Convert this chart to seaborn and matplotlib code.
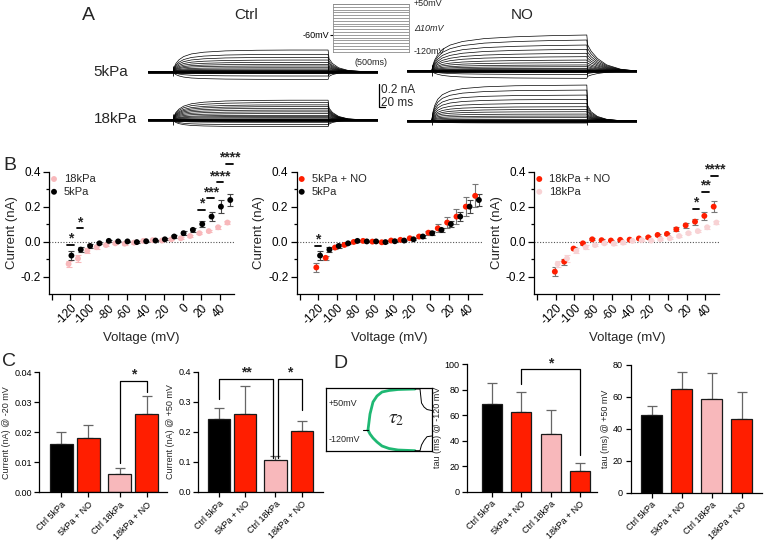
import matplotlib; matplotlib.use('Agg')
import matplotlib.pyplot as plt
import seaborn as sns

W, H = 764, 541

sns.set_style('ticks')
plt.rcParams['font.family'] = ['Liberation Sans', 'DejaVu Sans']
plt.rcParams['axes.edgecolor'] = 'black'
plt.rcParams['xtick.color'] = 'black'
plt.rcParams['ytick.color'] = 'black'

# ---- data ----
voltages = [-120, -110, -100, -90, -80, -70, -60, -50, -40, -30, -20, -10, 0, 10, 20, 30, 40, 50]

# example traces (A): steady-state amplitude of each sweep, nA
amp_ctrl_5 = [-0.066, -0.037, -0.014, 0, 0, 0.003, 0.006, 0.010, 0.014, 0.023, 0.034, 0.049, 0.063, 0.080, 0.100, 0.123, 0.149, 0.186]
amp_no_5 = [-0.063, -0.030, -0.010, 0, 0.004, 0.009, 0.016, 0.023, 0.037, 0.052, 0.072, 0.094, 0.123, 0.152, 0.186, 0.223, 0.266, 0.309]
amp_ctrl_18 = [-0.057, -0.040, -0.020, -0.008, 0, 0.005, 0.010, 0.020, 0.030, 0.040, 0.055, 0.070, 0.085, 0.100, 0.115, 0.130, 0.150, 0.170]
amp_no_18 = [-0.020, -0.012, -0.005, 0, 0.003, 0.006, 0.011, 0.026, 0.040, 0.057, 0.077, 0.097, 0.120, 0.149, 0.183, 0.220, 0.263, 0.306]
# time course of a sweep (fraction of steady state)
trace_t = [0, 81, 84, 90, 100, 115, 140, 180, 250, 350, 460, 581, 584, 595, 615, 645, 690, 742]
frac_ctrl = [0, 0, 0.2, 0.38, 0.55, 0.7, 0.82, 0.9, 0.96, 0.99, 1.0, 1.0, 0.6, 0.38, 0.18, 0.06, 0.01, 0]
frac_no_5 = [0, 0, 0.15, 0.30, 0.45, 0.60, 0.72, 0.82, 0.90, 0.95, 0.98, 1.0, 0.72, 0.55, 0.35, 0.17, 0.05, 0]
frac_no_18 = [0, 0, 0.22, 0.42, 0.60, 0.73, 0.83, 0.90, 0.95, 0.98, 0.99, 1.0, 0.42, 0.25, 0.12, 0.04, 0.0, 0]
PULSE_ON, PULSE_OFF = 81, 581

# IV curves (B), mean and SEM, nA
iv_5 = [-0.080, -0.046, -0.025, -0.010, 0.004, 0.001, 0.001, -0.003, 0.002, 0.006, 0.013, 0.029, 0.048, 0.067, 0.100, 0.143, 0.200, 0.238]
iv_5_err = [0.027, 0.015, 0.010, 0.006, 0.005, 0.004, 0.004, 0.004, 0.004, 0.005, 0.006, 0.008, 0.010, 0.011, 0.019, 0.026, 0.036, 0.035]
iv_18 = [-0.128, -0.097, -0.053, -0.032, -0.020, -0.010, -0.012, -0.006, 0.004, 0.008, 0.006, 0.013, 0.019, 0.032, 0.048, 0.060, 0.082, 0.109]
iv_18_err = [0.018, 0.020, 0.014, 0.010, 0.008, 0.006, 0.005, 0.005, 0.004, 0.004, 0.004, 0.005, 0.005, 0.006, 0.006, 0.007, 0.009, 0.011]
iv_5_no = [-0.148, -0.093, -0.034, -0.019, -0.002, 0.004, 0.000, -0.004, 0.006, 0.010, 0.019, 0.029, 0.051, 0.076, 0.109, 0.143, 0.200, 0.262]
iv_5_no_err = [0.028, 0.012, 0.010, 0.008, 0.005, 0.004, 0.004, 0.004, 0.004, 0.005, 0.006, 0.009, 0.012, 0.022, 0.030, 0.042, 0.055, 0.066]
iv_18_no = [-0.172, -0.115, -0.040, -0.010, 0.013, 0.008, 0.006, 0.010, 0.011, 0.018, 0.024, 0.038, 0.044, 0.070, 0.093, 0.114, 0.147, 0.200]
iv_18_no_err = [0.025, 0.018, 0.007, 0.010, 0.006, 0.004, 0.004, 0.005, 0.005, 0.005, 0.006, 0.007, 0.008, 0.012, 0.014, 0.017, 0.022, 0.032]

# significance marks on the IV curves: voltage, stars, level of the dash
sig_b1_v, sig_b1_txt, sig_b1_y = [-120, -110, 20, 30, 40, 50], ['*', '*', '*', '***', '****', '****'], [-0.019, 0.076, 0.181, 0.248, 0.339, 0.444]
sig_b2_v, sig_b2_txt, sig_b2_y = [-120], ['*'], [-0.025]
sig_b3_v, sig_b3_txt, sig_b3_y = [30, 40, 50], ['*', '**', '****'], [0.187, 0.286, 0.377]

# bar charts (C, D)
bar_labels = ['Ctrl 5kPa', '5kPa + NO', 'Ctrl 18kPa', '18kPa + NO']
cur_m20 = [0.016, 0.018, 0.006, 0.026]
cur_m20_err = [0.004, 0.0043, 0.002, 0.006]
cur_p50 = [0.241, 0.260, 0.107, 0.202]
cur_p50_err = [0.037, 0.094, 0.012, 0.033]
tau_m120 = [68.4, 62.4, 45.2, 16.4]
tau_m120_err = [16.5, 16.0, 18.5, 6.3]
tau_p50 = [48.7, 64.8, 58.5, 46.4]
tau_p50_err = [5.6, 11.0, 16.3, 16.5]

# tau2 inset (D): schematic sweep at +50 / -120 mV with fit
fit_t = [42, 44, 47, 51, 56, 63, 72, 89]
fit_up = [0, 16, 28, 34, 38, 39.5, 40.5, 41]
fit_down = [0, -4, -8, -12, -16, -18.5, -20, -20.7]
tail_t = [89, 94, 95.5, 98, 101, 105.7]
tail_up = [41, 41, 27, 23, 20.5, 19.5]
tail_down = [-20.7, -20.7, -15, -10.5, -6.7, -6]

BLACK = '#000000'
RED = '#ff1e00'
PINK = '#f8b8bb'
PALE = '#f8d2d4'
GREEN = '#1fb873'

fig = plt.figure(figsize=(W / 100, H / 100), dpi=100)


def px_axes(left, top, right, bottom):
    return fig.add_axes([left / W, 1 - bottom / H, (right - left) / W, (bottom - top) / H])


def label(x, y, s, size, **kw):
    fig.text(x / W, 1 - y / H, s, fontsize=size, **kw)


# ---- A: example current traces ----
NA_PX = 116.5
MS_PX = 0.31


def trace_axes(x0, base, amps, frac):
    ymin, ymax = -0.12, 0.36
    ax = px_axes(x0, base - ymax * NA_PX, x0 + 742 * MS_PX, base - ymin * NA_PX)
    for a in amps:
        ax.plot(trace_t, [a * f for f in frac], color='black', lw=0.5)
    ax.plot([trace_t[0], trace_t[-1]], [0, 0], color='black', lw=2.0)
    ax.vlines([PULSE_ON, PULSE_OFF], -0.04, 0.05, color='black', lw=0.6)
    ax.set_xlim(0, 742)
    ax.set_ylim(ymin, ymax)
    ax.axis('off')
    return ax


trace_axes(148, 71.7, amp_ctrl_5, frac_ctrl)
trace_axes(406.7, 71.0, amp_no_5, frac_no_5)
ax18 = trace_axes(148, 120, amp_ctrl_18, frac_ctrl)
trace_axes(406.7, 120.7, amp_no_18, frac_no_18)

# scale bar 0.2 nA / 20 ms
ax18.plot([746, 746, 766], [0.309, 0.109, 0.109], color='black', lw=0.9, clip_on=False)
ax18.text(752, 0.255, '0.2 nA', fontsize=8.5, va='center', ha='left')
ax18.text(752, 0.150, '20 ms', fontsize=8.5, va='center', ha='left')

# voltage protocol
axp = px_axes(333.3, 4, 409.3, 51.7)
for v in voltages:
    axp.axhline(v, color='#8c8c8c', lw=0.6)
axp.set_ylim(-120, 50)
axp.set_xlim(0, 1)
for s in axp.spines.values():
    s.set_visible(True)
    s.set_color('#8c8c8c')
    s.set_linewidth(0.6)
axp.set_xticks([])
axp.set_yticks([-60])
axp.set_yticklabels(['-60mV'], fontsize=6.5)
axp.tick_params(axis='y', length=2, pad=1)
tr = axp.get_yaxis_transform()
axp.text(1.06, 50, '+50mV', transform=tr, fontsize=6.5, va='center')
axp.text(1.06, -37, 'Δ10mV', transform=tr, fontsize=6.5, va='center', style='italic')
axp.text(1.06, -120, '-120mV', transform=tr, fontsize=6.5, va='center')
axp.text(0.5, -0.22, '(500ms)', transform=axp.transAxes, fontsize=6.5, ha='center', va='center')

label(88, 16, 'A', 14, ha='center', va='center')
label(246, 15, 'Ctrl', 11, ha='center', va='center')
label(522, 15, 'NO', 11, ha='center', va='center')
label(93.6, 72, '5kPa', 11, ha='left', va='center')
label(93.6, 119, '18kPa', 11, ha='left', va='center')

# ---- B: IV curves ----


def iv_axes(left, series, sig_v, sig_txt, sig_y):
    ax = px_axes(left, 171.7, left + 185, 294)
    ax.axhline(0, color='#555555', lw=0.8, ls=(0, (1, 1.5)), zorder=0)
    for name, vals, errs, color, ecolor, dx in series:
        xs = [v + dx for v in voltages]
        ax.errorbar(xs, vals, yerr=errs, fmt='none', ecolor=ecolor, elinewidth=0.8,
                    capsize=2.2, capthick=0.8, zorder=2)
        sns.scatterplot(x=xs, y=vals, color=color, s=18, edgecolor='none', label=name,
                        ax=ax, zorder=3)
    for v, t, y in zip(sig_v, sig_txt, sig_y):
        ax.plot([v - 3.5, v + 3.5], [y, y], color='black', lw=1.3, clip_on=False)
        ax.annotate(t, xy=(v, y), xytext=(0, 4.5), textcoords='offset points', ha='center',
                    va='center', fontsize=10, fontweight='bold', annotation_clip=False)
    ax.set_xlim(-143, 55)
    ax.set_ylim(-0.3, 0.4)
    ax.set_xticks([-140, -120, -100, -80, -60, -40, -20, 0, 20, 40])
    ax.set_xticklabels(['', '-120', '-100', '-80', '-60', '-40', '-20', '0', '20', '40'],
                       rotation=45, ha='right', rotation_mode='anchor', fontsize=8.5)
    ax.set_yticks([-0.2, 0, 0.2, 0.4])
    ax.set_yticklabels(['-0.2', '0.0', '0.2', '0.4'], fontsize=8.5)
    ax.set_yticks([-0.1, 0.1, 0.3], minor=True)
    ax.tick_params(axis='both', which='major', length=4, width=0.9, pad=2)
    ax.tick_params(axis='y', which='minor', length=2, width=0.9)
    ax.set_xlabel('Voltage (mV)', fontsize=9.5, labelpad=3)
    ax.set_ylabel('Current (nA)', fontsize=9.5, labelpad=2)
    for s in ax.spines.values():
        s.set_linewidth(0.9)
    sns.despine(ax=ax)
    ax.legend(loc='upper left', bbox_to_anchor=(-0.015, 1.0), frameon=False, fontsize=8,
              handletextpad=0.4, borderaxespad=0, borderpad=0.2, labelspacing=0.25,
              handlelength=1.0)
    return ax


iv_axes(49, [('18kPa', iv_18, iv_18_err, PINK, PINK, -2),
             ('5kPa', iv_5, iv_5_err, BLACK, '#444444', 1)],
        sig_b1_v, sig_b1_txt, sig_b1_y)
iv_axes(296.7, [('5kPa + NO', iv_5_no, iv_5_no_err, RED, '#777777', -2),
                ('5kPa', iv_5, iv_5_err, BLACK, '#444444', 2)],
        sig_b2_v, sig_b2_txt, sig_b2_y)
iv_axes(534.3, [('18kPa + NO', iv_18_no, iv_18_no_err, RED, '#777777', -1),
                ('18kPa', iv_18, iv_18_err, PALE, PALE, 2)],
        sig_b3_v, sig_b3_txt, sig_b3_y)
label(10, 165, 'B', 14, ha='center', va='center')

# ---- C, D: bar charts ----
bar_colors = [BLACK, RED, PINK, RED]


def bar_axes(box, pos, vals, errs, width, xlim, ylim, yticks, yticklabels, ylabel):
    ax = px_axes(*box)
    sns.barplot(x=pos, y=vals, hue=bar_labels, palette=bar_colors, native_scale=True,
                width=width, saturation=1, edgecolor='#1a1a1a', linewidth=0.9,
                errorbar=None, legend=False, ax=ax, zorder=2)
    ax.errorbar(pos, vals, yerr=[[0] * len(vals), errs], fmt='none', ecolor='#666666',
                elinewidth=0.9, capsize=3.5, capthick=0.9, zorder=1)
    ax.set_xlim(*xlim)
    ax.set_ylim(*ylim)
    ax.set_xticks(pos)
    ax.set_xticklabels(bar_labels, rotation=45, ha='right', rotation_mode='anchor', fontsize=6.5)
    ax.set_yticks(yticks)
    ax.set_yticklabels(yticklabels, fontsize=6.5)
    ax.tick_params(axis='both', length=3.5, width=0.9, pad=2)
    ax.set_ylabel(ylabel, fontsize=6.5, labelpad=2)
    for s in ax.spines.values():
        s.set_linewidth(0.9)
    sns.despine(ax=ax)
    return ax


def bracket(ax, x1, x2, y, y1, y2, txt):
    ax.plot([x1, x1, x2, x2], [y1, y, y, y2], color='black', lw=0.9, clip_on=False)
    ax.annotate(txt, xy=((x1 + x2) / 2, y), xytext=(0, 4.5), textcoords='offset points',
                ha='center', va='center', fontsize=10, fontweight='bold', annotation_clip=False)


c_pos = [0, 1, 2.15, 3.15]
d_pos = [0, 1, 2, 3]

c1 = bar_axes((39.3, 372.3, 166.7, 492.3), c_pos, cur_m20, cur_m20_err, 0.85, (-0.8, 3.88),
              (0, 0.04), [0, 0.01, 0.02, 0.03, 0.04], ['0.00', '0.01', '0.02', '0.03', '0.04'],
              'Current (nA) @ -20 mV')
bracket(c1, 2.15, 3.15, 0.0371, 0.0097, 0.0335, '*')

c2 = bar_axes((198.3, 371.7, 322.7, 491.7), c_pos, cur_p50, cur_p50_err, 0.85, (-0.79, 3.95),
              (0, 0.4), [0, 0.1, 0.2, 0.3, 0.4], ['0.0', '0.1', '0.2', '0.3', '0.4'],
              'Current (nA) @ +50 mV')
bracket(c2, 0, 2.05, 0.375, 0.308, 0.111, '**')
bracket(c2, 2.25, 3.15, 0.375, 0.111, 0.272, '*')

d1 = bar_axes((467.3, 364, 596.7, 491.7), d_pos, tau_m120, tau_m120_err, 0.68, (-0.83, 3.57),
              (0, 100), [0, 20, 40, 60, 80, 100], ['0', '20', '40', '60', '80', '100'],
              'tau (ms) @ -120 mV')
bracket(d1, 1, 3, 95.8, 84.3, 28.7, '*')

bar_axes((630.7, 365, 761.7, 492.7), d_pos, tau_p50, tau_p50_err, 0.68, (-0.7, 3.67),
         (0, 80), [0, 20, 40, 60, 80], ['0', '20', '40', '60', '80'],
         'tau (ms) @ +50 mV')

# tau2 fit inset
axi = px_axes(326, 388.3, 431.7, 450.7)
axi.plot(fit_t, fit_up, color=GREEN, lw=2)
axi.plot(fit_t, fit_down, color=GREEN, lw=2)
axi.plot(tail_t, tail_up, color='black', lw=0.7)
axi.plot(tail_t, tail_down, color='black', lw=0.7)
axi.plot([37, 42], [0, 0], color='black', lw=0.8)
axi.set_xlim(0, 105.7)
axi.set_ylim(-20.7, 41.7)
axi.set_xticks([])
axi.set_yticks([])
for s in axi.spines.values():
    s.set_visible(True)
    s.set_color('black')
    s.set_linewidth(0.9)
axi.text(0.02, 0.76, '+50mV', transform=axi.transAxes, fontsize=6.5, va='center')
axi.text(0.02, 0.18, '-120mV', transform=axi.transAxes, fontsize=6.5, va='center')
axi.text(70, 11, r'$\tau_2$', fontsize=14, ha='center', va='center', math_fontfamily='stix')

label(9, 362, 'C', 14, ha='center', va='center')
label(340, 364, 'D', 14, ha='center', va='center')

fig.savefig('out.png', dpi=100, facecolor='white')
